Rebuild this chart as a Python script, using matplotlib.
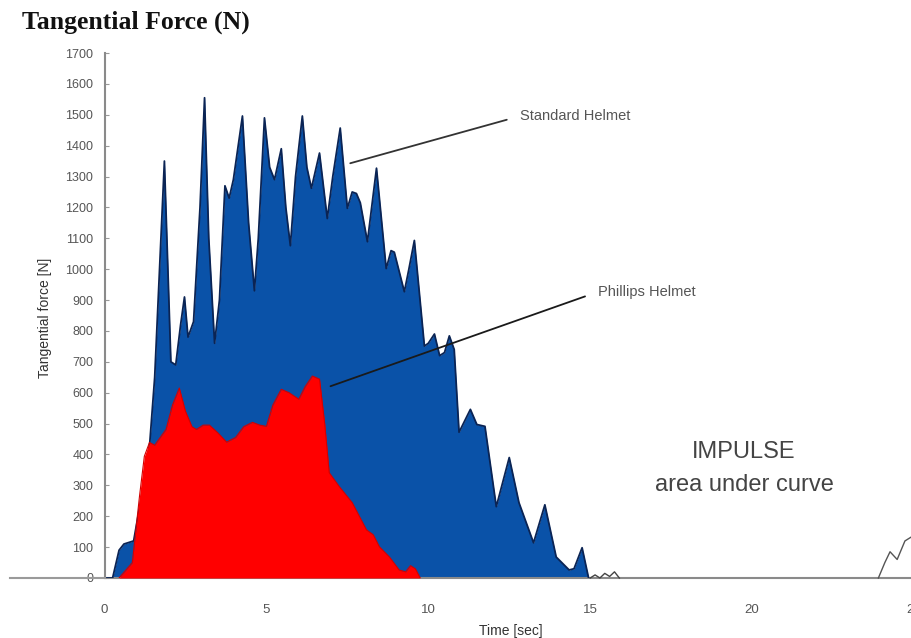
import matplotlib
matplotlib.use("Agg")
import matplotlib.pyplot as plt
from matplotlib.lines import Line2D

# ---- data ----
standard_t = [0.0, 0.25, 0.45, 0.6, 0.9, 1.2, 1.4, 1.55, 1.85, 2.05, 2.2, 2.35, 2.47, 2.58,
              2.75, 2.95, 3.09, 3.22, 3.4, 3.55, 3.72, 3.85, 3.98, 4.26, 4.45, 4.63, 4.75,
              4.94, 5.1, 5.25, 5.46, 5.6, 5.74, 5.9, 6.11, 6.25, 6.39, 6.64, 6.88, 7.05,
              7.28, 7.5, 7.65, 7.78, 7.9, 8.12, 8.4, 8.7, 8.85, 8.95, 9.26, 9.4, 9.57,
              9.88, 10.0, 10.19, 10.35, 10.5, 10.65, 10.8, 10.95, 11.3, 11.5, 11.75, 12.1,
              12.5, 12.8, 13.25, 13.6, 13.95, 14.35, 14.5, 14.75, 14.95]
standard_f = [0, 0, 90, 110, 120, 300, 440, 650, 1350, 700, 690, 820, 910, 780,
              830, 1200, 1555, 1100, 760, 900, 1270, 1230, 1290, 1496, 1150, 930, 1100,
              1490, 1330, 1290, 1390, 1200, 1076, 1300, 1496, 1330, 1262, 1376, 1164, 1300,
              1457, 1197, 1250, 1245, 1215, 1089, 1327, 1002, 1060, 1055, 927, 1000, 1093,
              751, 760, 790, 720, 730, 784, 740, 472, 546, 497, 491, 231,
              390, 244, 114, 237, 68, 26, 30, 98, 0]

phillips_t = [0.45, 0.86, 1.08, 1.23, 1.39, 1.55, 1.9, 2.1, 2.31, 2.5, 2.7, 2.84, 3.05,
              3.24, 3.5, 3.77, 4.05, 4.3, 4.57, 4.8, 5.0, 5.2, 5.46, 5.7, 6.0, 6.2, 6.42,
              6.64, 6.8, 6.94, 7.25, 7.65, 8.09, 8.3, 8.49, 8.8, 9.1, 9.3, 9.45, 9.6, 9.75]
phillips_f = [0, 50, 264, 394, 439, 430, 481, 560, 615, 540, 490, 481, 495,
              495, 470, 440, 455, 490, 504, 495, 491, 560, 611, 600, 579, 620, 654,
              644, 500, 341, 296, 244, 156, 140, 101, 68, 26, 20, 40, 30, 0]

tail_t = [15.0, 15.15, 15.3, 15.45, 15.6, 15.75, 15.9]
tail_f = [0, 10, 0, 15, 5, 20, 0]

next_t = [23.9, 24.1, 24.26, 24.48, 24.72, 24.95]
next_f = [0, 50, 85, 60, 120, 135]

y_ticks = list(range(0, 1800, 100))
x_ticks = [0, 5, 10, 15, 20, 25]

# ---- figure ----
W, H = 911, 638
fig = plt.figure(figsize=(W / 100, H / 100), dpi=100)
ax_left, ax_right = 104.5 / W, 914 / W
ax_bottom, ax_top = (H - 578) / H, (H - 53) / H
ax = fig.add_axes([ax_left, ax_bottom, ax_right - ax_left, ax_top - ax_bottom])

blue = "#0a52a8"
navy = "#0b2454"
red = "#ff0000"

ax.fill_between(standard_t, standard_f, 0, color=blue, lw=0, zorder=2)
ax.plot(standard_t, standard_f, color=navy, lw=1.3, zorder=3)
ax.fill_between(phillips_t, phillips_f, 0, color=red, lw=0, zorder=4)
ax.plot(phillips_t, phillips_f, color="#d40000", lw=0.8, zorder=5)
ax.plot(tail_t, tail_f, color="#444444", lw=1.0, zorder=3, clip_on=False)
ax.plot(next_t, next_f, color="#555555", lw=1.0, zorder=3, clip_on=False)

ax.set_xlim(0, 25)
ax.set_ylim(0, 1700)
ax.set_yticks(y_ticks)
ax.set_yticklabels([str(v) for v in y_ticks], fontsize=9, color="#555555",
                   family="Liberation Sans")
ax.set_xticks(x_ticks)
ax.set_xticklabels([str(v) for v in x_ticks], fontsize=9.5, color="#555555",
                   family="Liberation Sans")
ax.tick_params(axis="y", direction="in", length=3, color="#999999", pad=8)
ax.tick_params(axis="x", length=0, pad=19)

for s in ["top", "right"]:
    ax.spines[s].set_visible(False)
for s in ["left", "bottom"]:
    ax.spines[s].set_color("#8a8a8a")
    ax.spines[s].set_linewidth(1.5)
ax.spines["left"].set_zorder(6)

# extension of the baseline to the left
fig.add_artist(Line2D([10 / W, ax_left], [(H - 578) / H] * 2, color="#9a9a9a", lw=1.5))

# axis labels
fig.text(45 / W, 1 - 318 / H, "Tangential force [N]", rotation=90, ha="center",
         va="center", fontsize=10, color="#333333", family="Liberation Sans")
fig.text(511 / W, 1 - 631 / H, "Time [sec]", ha="center", va="center", fontsize=10,
         color="#333333", family="Liberation Sans")

# title
fig.text(22 / W, 1 - 22 / H, "Tangential Force (N)", ha="left", va="center",
         fontsize=18.5, fontweight="bold", family="Liberation Serif", color="#111111")

# annotations
ax.annotate("Standard Helmet", xy=(7.59, 1343), xytext=(12.84, 1496),
            fontsize=10.5, color="#555555", family="Liberation Sans", va="center",
            arrowprops=dict(arrowstyle="-", color="#333333", lw=1.3,
                            shrinkA=8, shrinkB=0, relpos=(0, 0.5)), zorder=7)
ax.annotate("Phillips Helmet", xy=(6.98, 621), xytext=(15.25, 927),
            fontsize=10.5, color="#555555", family="Liberation Sans", va="center",
            arrowprops=dict(arrowstyle="-", color="#1a1a1a", lw=1.3,
                            shrinkA=8, shrinkB=0, relpos=(0, 0.5)), zorder=7)

ax.text(19.75, 408, "IMPULSE", ha="center", va="center", fontsize=17,
        color="#444444", family="Liberation Sans")
ax.text(19.75, 302, "area under curve", ha="center", va="center", fontsize=17,
        color="#444444", family="Liberation Sans")

fig.savefig("out.png", dpi=100)
